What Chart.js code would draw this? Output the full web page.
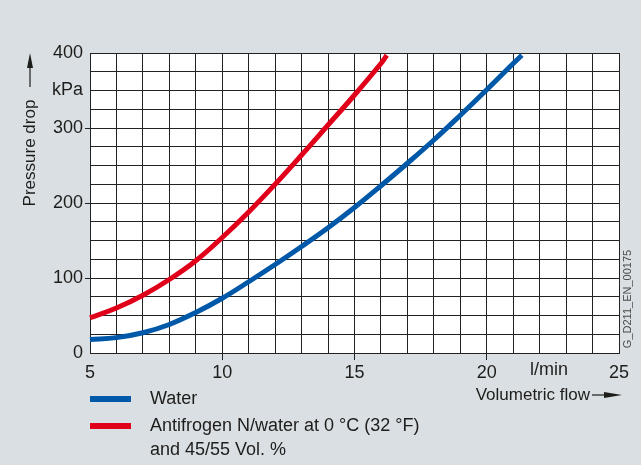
<!doctype html>
<html>
<head>
<title>Pressure drop</title>
<script src="https://cdn.jsdelivr.net/npm/chart.js@4/dist/chart.umd.min.js"></script>
<style>
  body { margin: 0; background: #dadfe3; }
</style>
</head>
<body>
<canvas id="chart" width="641" height="465"></canvas>
<script>
  // values (flow in l/min, pressure drop in kPa)
  const flowTicks = [5, 10, 15, 20, 25];
  const pressureTicks = [0, 100, 200, 300, 400];
  const pressureUnit = 'kPa';
  const flowUnit = 'l/min';

  const waterFlow = [5, 6, 7, 8, 9, 10, 11, 12, 13, 14, 15, 16, 17, 18, 19, 20, 21, 21.33];
  const waterDrop = [18, 20.5, 27, 38, 54, 73, 95, 118, 142, 167, 194, 223, 253, 284, 317, 351, 386, 397];

  const antifrogenFlow = [5, 6, 7, 8, 9, 10, 11, 12, 13, 14, 15, 16, 16.22];
  const antifrogenDrop = [47, 60, 77, 98, 123, 154, 188, 225, 264, 304, 344, 386, 397];

  const seriesNames = [
    ['Water'],
    ['Antifrogen N/water at 0 °C (32 °F)', 'and 45/55 Vol. %']
  ];
  const seriesColors = ['#0058a9', '#e1001a'];

  const toPoints = (xs, ys) => xs.map((x, i) => ({ x: x, y: ys[i] }));

  const textColor = '#1d1d1b';
  const gridColor = '#222222';
  const fontFamily = '"Liberation Sans", Arial, Helvetica, sans-serif';

  function arrow(ctx, x1, y1, x2, y2, head) {
    const ang = Math.atan2(y2 - y1, x2 - x1);
    ctx.beginPath();
    ctx.moveTo(x1, y1);
    ctx.lineTo(x2 - Math.cos(ang) * head, y2 - Math.sin(ang) * head);
    ctx.stroke();
    ctx.beginPath();
    ctx.moveTo(x2, y2);
    ctx.lineTo(x2 - Math.cos(ang) * head - Math.sin(ang) * 3, y2 - Math.sin(ang) * head + Math.cos(ang) * 3);
    ctx.lineTo(x2 - Math.cos(ang) * head + Math.sin(ang) * 3, y2 - Math.sin(ang) * head - Math.cos(ang) * 3);
    ctx.closePath();
    ctx.fill();
  }

  const decorations = {
    id: 'decorations',
    beforeDraw(chart) {
      const { ctx, chartArea: a } = chart;
      ctx.save();
      ctx.fillStyle = '#dadfe3';
      ctx.fillRect(0, 0, chart.width, chart.height);
      ctx.fillStyle = '#ffffff';
      ctx.fillRect(a.left, a.top, a.right - a.left, a.bottom - a.top);
      ctx.restore();
    },
    afterDraw(chart) {
      const { ctx, chartArea: a } = chart;
      const xs = chart.scales.x;
      ctx.save();
      ctx.fillStyle = textColor;
      ctx.strokeStyle = textColor;
      ctx.lineWidth = 1.2;

      // y axis title with arrow
      ctx.save();
      ctx.translate(30, 153);
      ctx.rotate(-Math.PI / 2);
      ctx.font = '17px ' + fontFamily;
      ctx.textAlign = 'center';
      ctx.textBaseline = 'middle';
      ctx.fillText('Pressure drop', 0, 0);
      ctx.restore();
      arrow(ctx, 30, 87, 30, a.top, 15);

      // x unit and title with arrow
      ctx.font = '18px ' + fontFamily;
      ctx.textAlign = 'center';
      ctx.textBaseline = 'middle';
      ctx.fillText(flowUnit, xs.getPixelForValue(22.35), 370);
      ctx.font = '17px ' + fontFamily;
      ctx.textAlign = 'right';
      ctx.fillText('Volumetric flow', 590, 395);
      arrow(ctx, 592, 395, 622, 395, 18);

      // drawing code
      ctx.save();
      ctx.translate(628, 299);
      ctx.rotate(-Math.PI / 2);
      ctx.font = '11px ' + fontFamily;
      ctx.fillStyle = '#4a4a4a';
      ctx.textAlign = 'center';
      ctx.fillText('G_D211_EN_00175', 0, 0);
      ctx.restore();

      // legend
      const rows = [399, 426];
      ctx.font = '18px ' + fontFamily;
      ctx.textAlign = 'left';
      chart.data.datasets.forEach((ds, i) => {
        ctx.strokeStyle = ds.borderColor;
        ctx.lineWidth = 6;
        ctx.beginPath();
        ctx.moveTo(90, rows[i]);
        ctx.lineTo(131, rows[i]);
        ctx.stroke();
        ctx.fillStyle = textColor;
        seriesNames[i].forEach((line, j) => ctx.fillText(line, 150, rows[i] + j * 24));
      });
      ctx.restore();
    }
  };

  new Chart(document.getElementById('chart'), {
    type: 'line',
    data: {
      datasets: [
        {
          label: seriesNames[0].join(' '),
          data: toPoints(waterFlow, waterDrop),
          borderColor: seriesColors[0],
          borderWidth: 5,
          pointRadius: 0,
          tension: 0.4,
          clip: false
        },
        {
          label: seriesNames[1].join(' '),
          data: toPoints(antifrogenFlow, antifrogenDrop),
          borderColor: seriesColors[1],
          borderWidth: 5,
          pointRadius: 0,
          tension: 0.4,
          clip: false
        }
      ]
    },
    options: {
      responsive: false,
      animation: false,
      layout: { padding: { top: 53, right: 22, left: 0, bottom: 0 } },
      plugins: { legend: { display: false }, tooltip: { enabled: false } },
      scales: {
        x: {
          type: 'linear',
          min: flowTicks[0],
          max: flowTicks[flowTicks.length - 1],
          afterFit(scale) { scale.height = 112; },
          border: { color: gridColor, width: 1 },
          grid: {
            color: gridColor,
            lineWidth: 1,
            tickLength: 7,
            tickColor: (c) => (c.tick && flowTicks.slice(1, -1).includes(c.tick.value)) ? gridColor : 'rgba(0,0,0,0)'
          },
          ticks: {
            stepSize: 1,
            autoSkip: false,
            maxRotation: 0,
            padding: 2,
            color: textColor,
            font: { family: fontFamily, size: 18 },
            callback: (v) => flowTicks.includes(v) ? String(v) : ''
          }
        },
        y: {
          min: pressureTicks[0],
          max: pressureTicks[pressureTicks.length - 1],
          afterFit(scale) { scale.width = 90; },
          border: { color: gridColor, width: 1 },
          grid: {
            color: gridColor,
            lineWidth: 1,
            tickLength: 5,
            tickColor: (c) => (c.tick && pressureTicks.slice(1, -1).includes(c.tick.value)) ? gridColor : 'rgba(0,0,0,0)'
          },
          ticks: {
            stepSize: 25,
            autoSkip: false,
            padding: 2,
            color: textColor,
            font: { family: fontFamily, size: 18 },
            callback: (v) => pressureTicks.includes(v) ? String(v) : (v === 350 ? pressureUnit : '')
          }
        }
      }
    },
    plugins: [decorations]
  });
</script>
</body>
</html>
